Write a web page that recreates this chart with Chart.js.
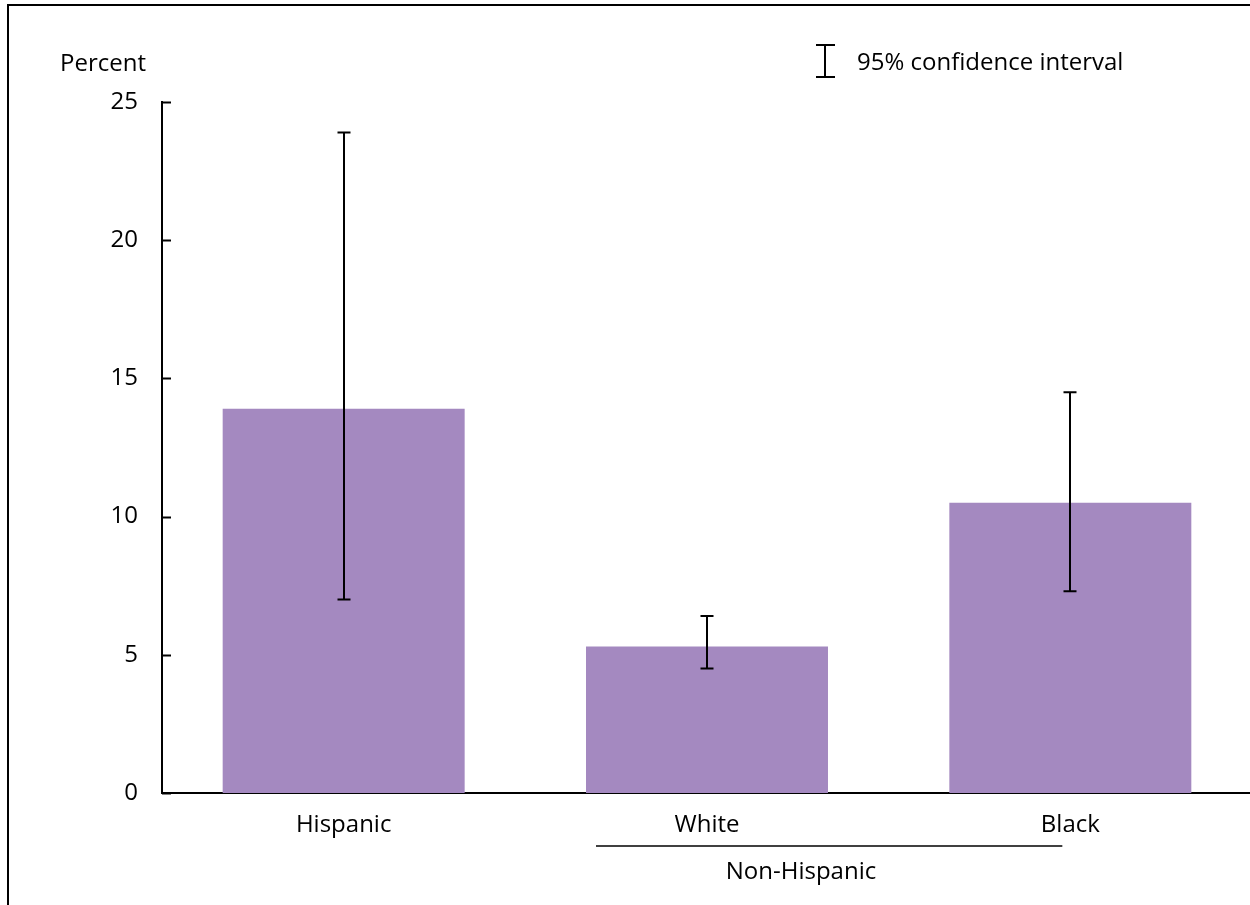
<!DOCTYPE html>
<html>
<head>
<meta charset="utf-8">
<script src="https://cdn.jsdelivr.net/npm/chart.js@4/dist/chart.umd.min.js"></script>
<style>
  html, body { margin: 0; padding: 0; background: #fff; overflow: hidden; }
  #wrap { position: absolute; left: 0; top: 0; width: 1252px; height: 905px; }
</style>
</head>
<body>
<div id="wrap"><canvas id="chart"></canvas></div>
<script>
// Data
const categories = ['Hispanic', 'White', 'Black'];
const percentValues = [13.9, 5.3, 10.5];
const ciLower = [7.0, 4.5, 7.3];
const ciUpper = [23.9, 6.4, 14.5];
const yTicks = [0, 5, 10, 15, 20, 25];

const FONT = '"Open Sans", "DejaVu Sans", sans-serif';
const FONT_SIZE = 24;

// Draws frame, inward ticks, error bars, legend and group label
const extrasPlugin = {
    id: 'extras',
    afterDatasetsDraw(chart) {
        const ctx = chart.ctx;
        const x = chart.scales.x;
        const y = chart.scales.y;
        ctx.save();
        ctx.strokeStyle = '#000';
        ctx.fillStyle = '#000';

        // outer frame (top and left only)
        ctx.lineWidth = 2;
        ctx.beginPath();
        ctx.moveTo(8, 905);
        ctx.lineTo(8, 5);
        ctx.lineTo(chart.width, 5);
        ctx.stroke();

        // inward y ticks
        ctx.lineWidth = 2;
        yTicks.forEach(function (t) {
            const py = Math.round(y.getPixelForValue(t)) + 0.5;
            ctx.beginPath();
            ctx.moveTo(x.left, py);
            ctx.lineTo(x.left + 9, py);
            ctx.stroke();
        });

        // error bars
        ctx.lineWidth = 2;
        categories.forEach(function (c, i) {
            const px = Math.round(x.getPixelForValue(i));
            const top = y.getPixelForValue(ciUpper[i]);
            const bot = y.getPixelForValue(ciLower[i]);
            ctx.beginPath();
            ctx.moveTo(px, top);
            ctx.lineTo(px, bot);
            ctx.moveTo(px - 6.5, top);
            ctx.lineTo(px + 6.5, top);
            ctx.moveTo(px - 6.5, bot);
            ctx.lineTo(px + 6.5, bot);
            ctx.stroke();
        });

        // legend for confidence interval
        ctx.beginPath();
        ctx.moveTo(825, 45);
        ctx.lineTo(825, 77);
        ctx.moveTo(816, 45);
        ctx.lineTo(835, 45);
        ctx.moveTo(816, 77);
        ctx.lineTo(835, 77);
        ctx.stroke();
        ctx.font = FONT_SIZE + 'px ' + FONT;
        ctx.textAlign = 'left';
        ctx.textBaseline = 'middle';
        ctx.fillText('95% confidence interval', 857, 63);

        // y axis title
        ctx.fillText('Percent', 60, 64);

        // Non-Hispanic group bracket
        const wx = x.getPixelForValue(1);
        const bx = x.getPixelForValue(2);
        ctx.lineWidth = 1.5;
        ctx.beginPath();
        ctx.moveTo(wx - 111, 846);
        ctx.lineTo(bx - 8, 846);
        ctx.stroke();
        ctx.textAlign = 'center';
        ctx.fillText('Non-Hispanic', wx + 94, 872);

        ctx.restore();
    }
};

const ctx = document.getElementById('chart').getContext('2d');
const chart = new Chart(ctx, {
    type: 'bar',
    data: {
        labels: categories,
        datasets: [{
            data: percentValues,
            backgroundColor: '#a489c0',
            borderWidth: 0,
            categoryPercentage: 1.0,
            barPercentage: 0.666
        }]
    },
    options: {
        responsive: true,
        maintainAspectRatio: false,
        animation: false,
        layout: { padding: { top: 102, left: 0, right: 0, bottom: 0 } },
        plugins: {
            legend: { display: false },
            tooltip: { enabled: false }
        },
        scales: {
            x: {
                offset: true,
                grid: { display: false, drawTicks: false },
                border: { display: true, color: '#000', width: 2 },
                ticks: {
                    color: '#000',
                    padding: 18,
                    font: { size: FONT_SIZE, family: FONT }
                },
                afterFit: function (scale) { scale.height = 112; }
            },
            y: {
                min: 0,
                max: 25,
                afterBuildTicks: function (scale) {
                    scale.ticks = yTicks.map(function (v) { return { value: v }; });
                },
                grid: { display: false, drawTicks: false },
                border: { display: true, color: '#000', width: 2 },
                ticks: {
                    color: '#000',
                    padding: 24,
                    font: { size: FONT_SIZE, family: FONT }
                },
                afterFit: function (scale) { scale.width = 162; }
            }
        }
    },
    plugins: [extrasPlugin]
});
</script>
</body>
</html>
